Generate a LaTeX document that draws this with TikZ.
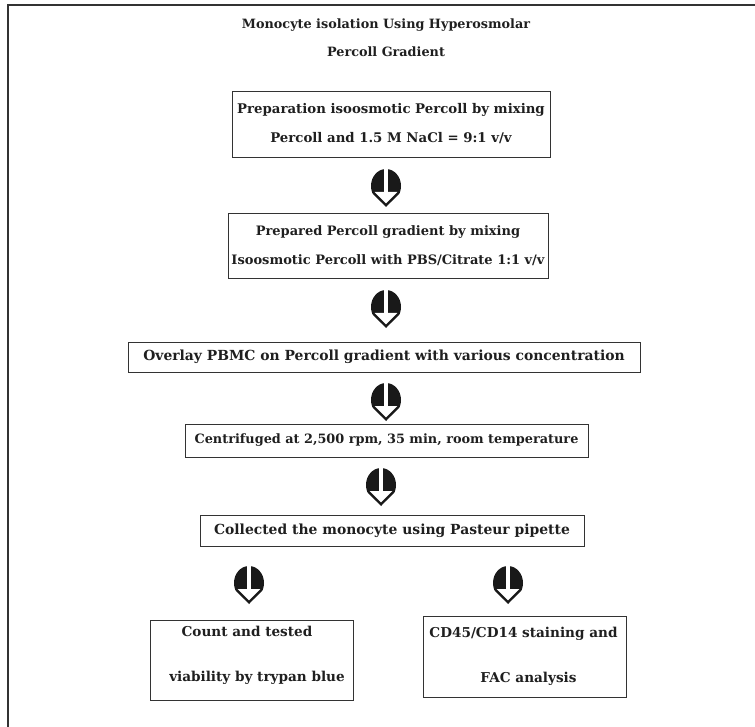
\documentclass[tikz,border=0pt]{standalone}
\usepackage{fontspec}
\setmainfont{DejaVu Serif}
\newcommand{\dnicon}[3]{% name, cx, top
  \begin{scope}[shift={(#2,#3)}]
    \coordinate (#1) at (0,18);
    \fill[icon] (0,17) ellipse [x radius=15pt, y radius=17pt];
    \fill[white] (-18,24.4) -- (-13.5,24.4) -- (0,38) -- (13.5,24.4) -- (18,24.4) -- (18,38.6) -- (-18,38.6) -- cycle;
    \fill[icon] (-13.5,24.4) -- (0,38) -- (13.5,24.4) -- cycle;
    \fill[white] (-11.3,23) -- (11.3,23) -- (0,34.3) -- cycle;
    \fill[white] (-2,-1) rectangle (2,23.5);
  \end{scope}}
\newcommand{\fs}[2]{\bfseries\fontsize{#1}{#2}\selectfont}
\begin{document}
\begin{tikzpicture}[x=1pt,y=-1pt,
  txt/.style={font=\fs{13.6}{29}, text=black!88, align=center, inner sep=0pt},
  box/.style={txt, draw=black!80, line width=0.9pt},
  icon/.style={black!90}]
\useasboundingbox (0,0) rectangle (755,727);
\fill[white] (0,0) rectangle (755,727);
\draw[black!80, line width=1.4pt] (8,727) -- (8,5) -- (755,5);

\node[txt, font=\fs{12.8}{28}] (title) at (386,38) {Monocyte isolation Using Hyperosmolar\\Percoll Gradient};

\dnicon{a1}{386}{169}
\dnicon{a2}{386}{290}
\dnicon{a3}{386}{383}
\dnicon{a4}{381}{468}
\dnicon{a5}{249}{566}
\dnicon{a6}{508}{566}

\node[box, font=\fs{13.3}{29}, minimum width=318, minimum height=66] (b1) at (391,124) {Preparation isoosmotic Percoll by mixing\\Percoll and 1.5 M NaCl = 9:1 v/v};
\node[box, font=\fs{13.0}{29}, minimum width=320, minimum height=65] (b2) at (388,245.5) {Prepared Percoll gradient by mixing\\Isoosmotic Percoll with PBS/Citrate 1:1 v/v};
\node[box, font=\fs{13.9}{29}, minimum width=512, minimum height=30] (b3) at (384,357) {Overlay PBMC on Percoll gradient with various concentration};
\node[box, font=\fs{12.85}{29}, minimum width=403, minimum height=33] (b4) at (386.5,440.5) {Centrifuged at 2,500 rpm, 35 min, room temperature};
\node[box, font=\fs{13.9}{29}, minimum width=384, minimum height=31] (b5) at (392,530.5) {Collected the monocyte using Pasteur pipette};
\node[box, font=\fs{13.6}{45}, text depth=12pt, minimum width=203, minimum height=80] (b6) at (251.5,660) {Count and tested\hspace*{9pt}\\\hspace*{11pt}viability by trypan blue};
\node[box, font=\fs{13.6}{45}, minimum width=203, minimum height=81] (b7) at (524.5,656.5) {CD45/CD14 staining and\hspace*{2pt}\\\hspace*{8pt}FAC analysis};
\end{tikzpicture}
\end{document}
